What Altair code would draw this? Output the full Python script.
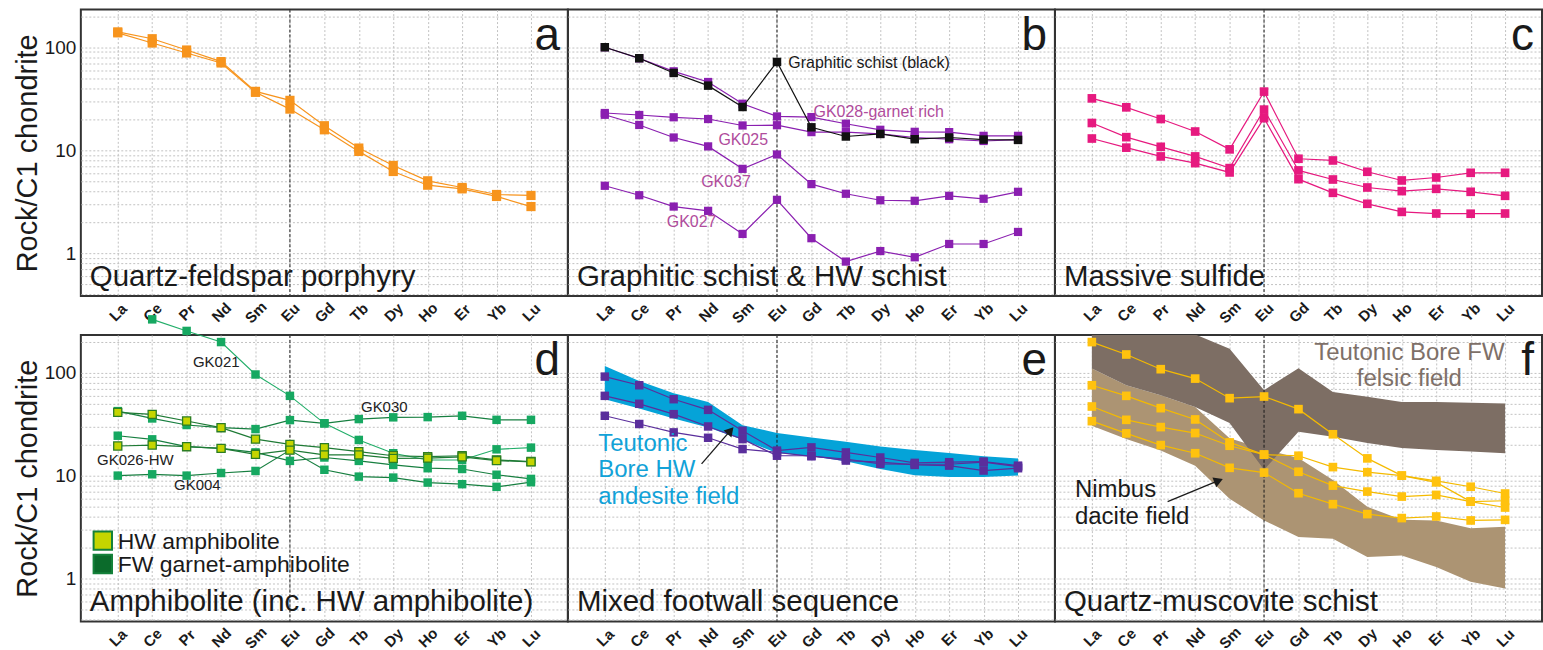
import json
import altair as alt
import pandas as pd

# ---------------- data ----------------
REE = ["La", "Ce", "Pr", "Nd", "Sm", "Eu", "Gd", "Tb", "Dy", "Ho", "Er", "Yb", "Lu"]

# a  Quartz-feldspar porphyry
a_qfp1 = [141, 121, 94, 72.6, 37.3, 30.5, 17.3, 10.5, 7.12, 5.05, 4.35, 3.72, 3.64]
a_qfp2 = [138, 110, 88, 70.4, 36.5, 25.1, 15.8, 9.75, 6.22, 4.58, 4.22, 3.56, 2.84]

# b  Graphitic schist & HW schist
b_graphitic = [100, 78.2, 56.3, 42.4, 26.3, 72, 16.7, 13.6, 14.4, 12.8, 13.3, 12.7, 12.6]
b_gk028 = [100, 78, 58.4, 46, 28.3, 21.3, 21.0, 18.1, 15.8, 15.1, 15.0, 13.8, 13.8]
b_gk025 = [23, 22, 20.9, 20.1, 17.4, 17.5, 15.0, 15.0, 14.4, 13.3, 12.8, 12.3, 12.7]
b_gk037 = [22.1, 17.6, 13.3, 10.9, 6.6, 9.1, 4.69, 3.78, 3.27, 3.23, 3.61, 3.38, 3.95]
b_gk027 = [4.52, 3.66, 2.84, 2.58, 1.54, 3.30, 1.40, 0.83, 1.05, 0.914, 1.23, 1.23, 1.61]

# c  Massive sulfide
c_ms1 = [31.9, 26.1, 20.1, 15.2, 10.2, 37.1, 8.27, 7.96, 6.18, 5.09, 5.44, 6.04, 6.04]
c_ms2 = [18.4, 13.4, 10.8, 8.71, 6.71, 24.8, 6.37, 5.2, 4.35, 4.01, 4.22, 3.95, 3.61]
c_ms3 = [13.0, 10.6, 8.71, 7.5, 6.09, 20.5, 5.24, 3.86, 3.02, 2.52, 2.43, 2.42, 2.43]

# d  Amphibolite
d_gk030 = [42.3, 35.9, 31.0, 29.2, 28.3, 34.6, 32.2, 35.4, 36.8, 37.0, 38.1, 34.8, 34.8]
d_fw3 = [24.4, 22.5, 19.1, 18.4, 16.8, 13.9, 15.0, 13.9, 12.7, 11.8, 11.6, 10.2, 9.29]
d_gk004 = [10.0, 10.3, 10.0, 10.6, 11.1, 17.7, 11.4, 9.78, 9.57, 8.56, 8.26, 7.78, 8.63]
d_gk021 = [None, 329, 254, 198, 95.9, 59.5, 32.2, 22.2, 16.5, 14.2, 14.2, 18.0, 18.7]
d_hw1 = [41.1, 39.3, 33.9, 29.2, 22.6, 20.1, 18.7, 17.1, 15.6, 15.3, 15.6, 14.2, 13.7]
d_gk026 = [19.4, 19.8, 19.1, 18.4, 16.1, 17.7, 15.9, 15.9, 14.7, 14.8, 15.2, 14.0, 13.6]

# e  Mixed footwall sequence
e_field_upper = [116, 83, 63, 52, 30.9, 25.9, 23.5, 21.3, 19.2, 17.7, 16.6, 15.4, 14.7]
e_field_lower = [55.2, 44.8, 35.9, 29.4, 22.3, 16.6, 15.4, 13.8, 11.6, 10.1, 9.7, 9.7, 10.0]
e_s1 = [91.5, 75.4, 55.2, 43.5, 27.3, 17.5, 18.8, 16.8, 15.0, 13.3, 13.5, 13.7, 12.5]
e_s2 = [59.5, 49.8, 39.5, 30.0, 22.6, 15.6, 15.6, 14.0, 13.5, 12.7, 12.5, 11.2, 11.8]
e_s3 = [38.1, 31.7, 26.3, 23.3, 18.1, 16.8, 15.4, 14.5, 13.0, 12.9, 12.9, 13.5, 12.2]

# f  Quartz-muscovite schist
f_felsic_upper = [500, 420, 350, 235, 171, 67.6, 110, 65, 58.2, 52, 52, 50.9, 50.2]
f_felsic_lower = [109.6, 75.5, 60.4, 46.5, 32.4, 11.4, 26.7, 23.9, 20.7, 18.5, 17.7, 17.1, 16.5]
f_dacite_upper = [109.6, 75.5, 60.4, 46.5, 23.0, 18.1, 14.8, 9.08, 4.98, 3.72, 3.67, 3.08, 3.19]
f_dacite_lower = [30.5, 22.7, 17.5, 12.5, 5.95, 3.67, 2.53, 2.44, 1.62, 1.68, 1.30, 0.93, 0.80]
f_s1 = [198, 150, 108, 87.5, 56.5, 58.6, 44.2, 25.2, 14.7, 10.0, 8.6, 5.6, 4.9]
f_s2 = [75.4, 59.5, 45.2, 35.1, 21.0, 16.0, 15.6, 12.1, 10.8, 10.0, 8.9, 7.8, 6.7]
f_s3 = [46.9, 34.8, 29.6, 25.9, 19.5, 16.0, 10.9, 8.0, 7.0, 6.26, 6.5, 5.6, 5.7]
f_s4 = [33.8, 25.7, 19.8, 16.5, 11.9, 10.7, 6.75, 5.28, 4.23, 3.87, 4.01, 3.67, 3.72]

# annotation anchors (element index, chondrite-normalised value)
b_notes = [("Graphitic schist (black)", 5.33, 71, "left", "#1a1a1a"),
           ("GK028-garnet rich", 6.06, 23.7, "left", "#B04C9C"),
           ("GK025", 4.02, 12.6, "center", "#B04C9C"),
           ("GK037", 3.52, 4.91, "center", "#B04C9C"),
           ("GK027", 2.52, 1.99, "center", "#B04C9C")]
d_notes = [("GK021", 2.86, 127), ("GK030", 7.74, 46.2),
           ("GK026-HW", 0.51, 14.3), ("GK004", 2.31, 8.13)]
e_arrow = (2.81, 13.0, 3.62, 26.7)
f_arrow = (2.2, 5.6, 3.64, 8.83)

# ---------------- styling ----------------
W, H = 488, 287
X_DOMAIN = [-1.072, 13.072]
Y_DOMAIN = [0.384, 232]
GRID = [0.4, 0.5, 0.6, 0.7, 0.8, 0.9, 1, 2, 3, 4, 5, 6, 7, 8, 9,
        10, 20, 30, 40, 50, 60, 70, 80, 90, 100, 200]
FONT = "Liberation Sans"
GRIDC = "#c2c2c2"
INK = "#1a1a1a"
LABEL_EXPR = json.dumps(REE) + "[datum.value]"


def xenc(field="idx"):
    return alt.X(field + ":Q",
                 scale=alt.Scale(domain=X_DOMAIN, nice=False, zero=False),
                 axis=alt.Axis(values=list(range(13)), labelExpr=LABEL_EXPR, title=None,
                               grid=True, gridColor=GRIDC, gridDash=[2, 2], gridWidth=1,
                               ticks=False, domain=False, labelAngle=-45,
                               labelAlign="center", labelBaseline="middle",
                               labelPadding=16, labelFontSize=15, labelFontWeight="bold",
                               labelColor=INK, labelFlush=False, labelOverlap=False))


def yenc(left, field="value"):
    if left:
        ax = alt.Axis(values=GRID,
                      labelExpr="(datum.value==1||datum.value==10||datum.value==100)?format(datum.value,'d'):''",
                      title="Rock/C1 chondrite", titleFontSize=29, titleFontWeight="normal",
                      titleColor=INK, titlePadding=2, labelFontSize=19, labelColor=INK,
                      labelPadding=5, labelOverlap=False, labelFlush=False,
                      ticks=False, domain=False, grid=True, gridColor=GRIDC,
                      gridDash=[2, 2], gridWidth=1)
    else:
        ax = alt.Axis(values=GRID, labels=False, ticks=False, domain=False, title=None,
                      grid=True, gridColor=GRIDC, gridDash=[2, 2], gridWidth=1)
    return alt.Y(field + ":Q", scale=alt.Scale(type="log", domain=Y_DOMAIN, nice=False), axis=ax)


def long(series):
    rows = []
    for name, vals in series.items():
        for i, v in enumerate(vals):
            if v is not None:
                rows.append({"idx": i, "el": REE[i], "value": v, "series": name})
    return pd.DataFrame(rows)


def band(upper, lower):
    return pd.DataFrame({"idx": list(range(13)), "upper": upper, "lower": lower})


def series_layers(series, left, color, fill=None, stroke=None, size=72, line_width=1.2):
    df = long(series)
    line = alt.Chart(df).mark_line(color=color, strokeWidth=line_width).encode(
        x=xenc(), y=yenc(left), detail="series:N")
    kw = dict(size=size, opacity=1, color=fill or color)
    if stroke:
        kw["stroke"] = stroke
        kw["strokeWidth"] = 1.3
    pts = alt.Chart(df).mark_square(**kw).encode(x=xenc(), y=yenc(left), detail="series:N")
    return [line, pts]


def area_layer(upper, lower, color, left):
    return alt.Chart(band(upper, lower)).mark_area(color=color, opacity=1, clip=True).encode(
        x=xenc(), y=yenc(left, "upper"), y2="lower:Q")


def eu_rule(left):
    return alt.Chart(pd.DataFrame({"idx": [5]})).mark_rule(
        color=INK, strokeDash=[3, 2], strokeWidth=1).encode(x=xenc())


def frame_text(title, letter):
    t = alt.Chart(pd.DataFrame({"t": [title]})).mark_text(
        align="left", baseline="alphabetic", fontSize=29.5, color=INK).encode(
        x=alt.value(9), y=alt.value(277), text="t:N")
    l = alt.Chart(pd.DataFrame({"t": [letter]})).mark_text(
        align="right", baseline="alphabetic", fontSize=46, color=INK).encode(
        x=alt.value(W - 8), y=alt.value(40), text="t:N")
    return [t, l]


def note(text, x, y, left, color=INK, align="center", size=16, baseline="middle", line_height=None):
    kw = dict(align=align, baseline=baseline, fontSize=size, color=color)
    if line_height:
        kw["lineHeight"] = line_height
    df = pd.DataFrame({"idx": [x], "value": [y]})
    return alt.Chart(df).mark_text(**kw).encode(x=xenc(), y=yenc(left), text=alt.value(text))


def arrow_shaft(coords, left):
    x0, y0, x1, y1 = coords
    df = pd.DataFrame({"x0": [x0], "y0": [y0], "x1": [x1], "y1": [y1]})
    return alt.Chart(df).mark_rule(color=INK, strokeWidth=1.3).encode(
        x=xenc("x0"), y=yenc(left, "y0"), x2="x1:Q", y2="y1:Q")


def arrow_head(coords, left, angle):
    x0, y0, x1, y1 = coords
    df = pd.DataFrame({"idx": [x1], "value": [y1]})
    return alt.Chart(df).mark_point(shape="triangle", filled=True, size=110, opacity=1,
                                    color=INK, angle=angle).encode(x=xenc(), y=yenc(left))


def panel(layers):
    return alt.layer(*layers).properties(width=W, height=H)


# ---- a
pa = panel([eu_rule(True)]
           + series_layers({"QFP-1": a_qfp1, "QFP-2": a_qfp2}, True, "#F7941D", size=85)
           + frame_text("Quartz-feldspar porphyry", "a"))

# ---- b
pb_layers = [eu_rule(False)]
pb_layers += series_layers({"GK028": b_gk028, "GK025": b_gk025, "GK037": b_gk037,
                            "GK027": b_gk027}, False, "#8A1FB0", size=68)
pb_layers += series_layers({"Graphitic": b_graphitic}, False, "#111111", size=72)
for txt, x, y, al, col in b_notes:
    pb_layers.append(note(txt, x, y, False, color=col, align=al, size=16))
pb = panel(pb_layers + frame_text("Graphitic schist & HW schist", "b"))

# ---- c
pc = panel([eu_rule(False)]
           + series_layers({"MS-1": c_ms1, "MS-2": c_ms2, "MS-3": c_ms3}, False, "#E6197F", size=75)
           + frame_text("Massive sulfide", "c"))

# ---- d
pd_layers = [eu_rule(True)]
pd_layers += series_layers({"GK021": d_gk021}, True, "#22AE69", fill="#16A861", size=72, line_width=1.1)
pd_layers += series_layers({"GK030": d_gk030, "FW3": d_fw3, "GK004": d_gk004}, True,
                           "#177F40", fill="#16A861", size=72)
pd_layers += series_layers({"HW1": d_hw1, "GK026": d_gk026}, True, "#1E7A35",
                           fill="#C5D500", stroke="#2C7D23", size=66)
for txt, x, y in d_notes:
    pd_layers.append(note(txt, x, y, True, size=15, color="#222222"))
legend_items = pd.DataFrame({"t": ["HW amphibolite", "FW garnet-amphibolite"],
                             "fill": ["#C5D500", "#0B6B2B"]})
for i, row in legend_items.iterrows():
    yy = 206 + 23.5 * i
    pd_layers.append(alt.Chart(pd.DataFrame({"t": [row["t"]]})).mark_square(
        size=340, opacity=1, color=row["fill"], stroke="#14813A", strokeWidth=2).encode(
        x=alt.value(22), y=alt.value(yy)))
    pd_layers.append(alt.Chart(pd.DataFrame({"t": [row["t"]]})).mark_text(
        align="left", baseline="middle", fontSize=23, color=INK).encode(
        x=alt.value(37), y=alt.value(yy + 1), text="t:N"))
pdd = panel(pd_layers + frame_text("Amphibolite (inc. HW amphibolite)", "d"))

# ---- e
pe_layers = [area_layer(e_field_upper, e_field_lower, "#05A3D8", False), eu_rule(False)]
pe_layers += series_layers({"E1": e_s1, "E2": e_s2, "E3": e_s3}, False, "#5A2E9C", size=72)
pe_layers.append(note(["Teutonic", "Bore HW", "andesite field"], -0.19, 17.5, False,
                      color="#12A2D8", align="left", size=24, baseline="alphabetic",
                      line_height=26.7))
pe_layers += [arrow_shaft(e_arrow, False), arrow_head(e_arrow, False, 41)]
pe = panel(pe_layers + frame_text("Mixed footwall sequence", "e"))

# ---- f
pf_layers = [area_layer(f_dacite_upper, f_dacite_lower, "#AC9473", False),
             area_layer(f_felsic_upper, f_felsic_lower, "#7D6E64", False),
             eu_rule(False)]
pf_layers += series_layers({"F1": f_s1, "F2": f_s2, "F3": f_s3, "F4": f_s4}, False,
                           "#F4BA00", fill="#FFC20E", size=75)
pf_layers.append(note(["Teutonic Bore FW", "felsic field"], 9.22, 133, False,
                      color="#7E7068", align="center", size=24, baseline="alphabetic",
                      line_height=26))
pf_layers.append(note(["Nimbus", "dacite field"], -0.49, 6.18, False,
                      color=INK, align="left", size=24, baseline="alphabetic",
                      line_height=26.7))
pf_layers += [arrow_shaft(f_arrow, False), arrow_head(f_arrow, False, 68)]
pf = panel(pf_layers + frame_text("Quartz-muscovite schist", "f"))

chart = alt.concat(pa, pb, pc, pdd, pe, pf, columns=3, bounds="flush",
                   spacing={"row": 39, "column": 0}).properties(
    padding={"left": 12, "top": 5, "right": 0, "bottom": 0}
).configure(font=FONT).configure_view(stroke="#333333", strokeWidth=2)

chart.save("out.html", embed_options={"renderer": "svg", "actions": False})
